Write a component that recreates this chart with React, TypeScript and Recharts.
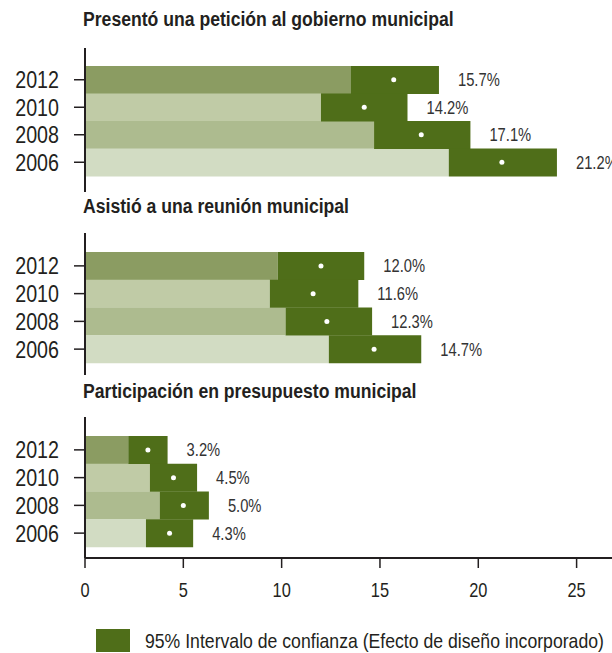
import { Bar, Cell, ComposedChart, LabelList, Line, XAxis, YAxis } from "recharts"

// años, de arriba hacia abajo
const years = ["2012", "2010", "2008", "2006"]

// Presentó una petición al gobierno municipal
const peticionEst = [15.7, 14.2, 17.1, 21.2]
const peticionLow = [13.5, 12.0, 14.7, 18.5]
const peticionHigh = [18.0, 16.4, 19.6, 24.0]

// Asistió a una reunión municipal
const reunionEst = [12.0, 11.6, 12.3, 14.7]
const reunionLow = [9.8, 9.4, 10.2, 12.4]
const reunionHigh = [14.2, 13.9, 14.6, 17.1]

// Participación en presupuesto municipal
const presupuestoEst = [3.2, 4.5, 5.0, 4.3]
const presupuestoLow = [2.2, 3.3, 3.8, 3.1]
const presupuestoHigh = [4.2, 5.7, 6.3, 5.5]

const xTicks = [0, 5, 10, 15, 20, 25]

const lightColors = ["#8b9c62", "#c0cba6", "#adbb8f", "#d2dcc3"]
const dark = "#4f6e19"
const ink = "#231f20"
const font = "'Liberation Sans', Arial, sans-serif"
const narrow = 0.82 // el original usa una fuente estrecha

const buildRows = (est: number[], low: number[], high: number[]) =>
  years.map((year, i) => ({
    year,
    low: low[i],
    ci: +(high[i] - low[i]).toFixed(2),
    est: est[i],
  }))

function NarrowText({ x, y, anchor, size, dy, fill, children }: any) {
  return (
    <text
      transform={`translate(${x} ${y}) scale(${narrow} 1)`}
      textAnchor={anchor}
      fontSize={size}
      fontFamily={font}
      fill={fill ?? ink}
      dy={dy}
    >
      {children}
    </text>
  )
}

const YTick = ({ x, y, payload }: any) => (
  <NarrowText x={x} y={y} anchor="end" size={24} dy="0.355em">
    {payload.value}
  </NarrowText>
)

const XTick = ({ x, y, payload }: any) => (
  <NarrowText x={x} y={y} anchor="middle" size={20} dy="0.71em">
    {payload.value}
  </NarrowText>
)

const PctLabel = ({ x, y, width, height, value }: any) => (
  <NarrowText x={x + width + 19} y={y + height / 2} anchor="start" size={18} dy="0.355em" fill="#333333">
    {`${Number(value).toFixed(1)}%`}
  </NarrowText>
)

const htmlText = (scale: number) => ({
  position: "absolute" as const,
  fontFamily: font,
  color: ink,
  whiteSpace: "nowrap" as const,
  transform: `scaleX(${scale})`,
  transformOrigin: "left center",
})

type PanelProps = {
  title: string
  rows: ReturnType<typeof buildRows>
  titleTop: number
  top: number
  plotHeight: number
  padTop: number
  padBottom: number
  showX?: boolean
}

function Panel({ title, rows, titleTop, top, plotHeight, padTop, padBottom, showX }: PanelProps) {
  const xHeight = showX ? 50 : 0
  return (
    <>
      <div style={{ ...htmlText(0.88), left: 83, top: titleTop, fontWeight: "bold", fontSize: 20, lineHeight: "20px" }}>
        {title}
      </div>
      <div style={{ position: "absolute", left: 0, top }}>
        <ComposedChart
          width={612}
          height={plotHeight + xHeight}
          data={rows}
          layout="vertical"
          barCategoryGap={0}
          margin={{ top: 0, right: 0, bottom: 0, left: 0 }}
          style={{ overflow: "visible" }}
        >
          <XAxis
            type="number"
            domain={[0, 26.8]}
            ticks={xTicks}
            hide={!showX}
            allowDataOverflow
            height={xHeight}
            axisLine={{ stroke: ink, strokeWidth: 2 }}
            tickLine={{ stroke: ink, strokeWidth: 1.5 }}
            tickSize={10}
            tickMargin={15}
            tick={<XTick />}
          />
          <YAxis
            type="category"
            dataKey="year"
            width={85}
            interval={0}
            padding={{ top: padTop, bottom: padBottom }}
            axisLine={{ stroke: ink, strokeWidth: 2 }}
            tickLine={{ stroke: ink, strokeWidth: 1.5 }}
            tickSize={11}
            tickMargin={15}
            tick={<YTick />}
          />
          <Bar dataKey="low" stackId="a" isAnimationActive={false}>
            {rows.map((r, i) => (
              <Cell key={r.year} fill={lightColors[i]} />
            ))}
          </Bar>
          <Bar dataKey="ci" stackId="a" fill={dark} isAnimationActive={false}>
            <LabelList dataKey="est" content={<PctLabel />} />
          </Bar>
          <Line
            dataKey="est"
            stroke="none"
            dot={{ r: 2.5, fill: "#ffffff", stroke: "none" }}
            activeDot={false}
            isAnimationActive={false}
          />
        </ComposedChart>
      </div>
    </>
  )
}

export default function App() {
  return (
    <div style={{ position: "fixed", left: 0, top: 0, width: 612, height: 653, overflow: "hidden", background: "#fff" }}>
      <Panel
        title="Presentó una petición al gobierno municipal"
        rows={buildRows(peticionEst, peticionLow, peticionHigh)}
        titleTop={9}
        top={48}
        plotHeight={144}
        padTop={18}
        padBottom={16}
      />
      <Panel
        title="Asistió a una reunión municipal"
        rows={buildRows(reunionEst, reunionLow, reunionHigh)}
        titleTop={196}
        top={233}
        plotHeight={142}
        padTop={19}
        padBottom={12}
      />
      <Panel
        title="Participación en presupuesto municipal"
        rows={buildRows(presupuestoEst, presupuestoLow, presupuestoHigh)}
        titleTop={381}
        top={417}
        plotHeight={141}
        padTop={19}
        padBottom={11}
        showX
      />
      <div style={{ position: "absolute", left: 96, top: 629, width: 34, height: 23, background: dark }} />
      <div style={{ ...htmlText(0.84), left: 145, top: 629, height: 23, lineHeight: "23px", fontSize: 21 }}>
        95% Intervalo de confianza (Efecto de diseño incorporado)
      </div>
    </div>
  )
}
